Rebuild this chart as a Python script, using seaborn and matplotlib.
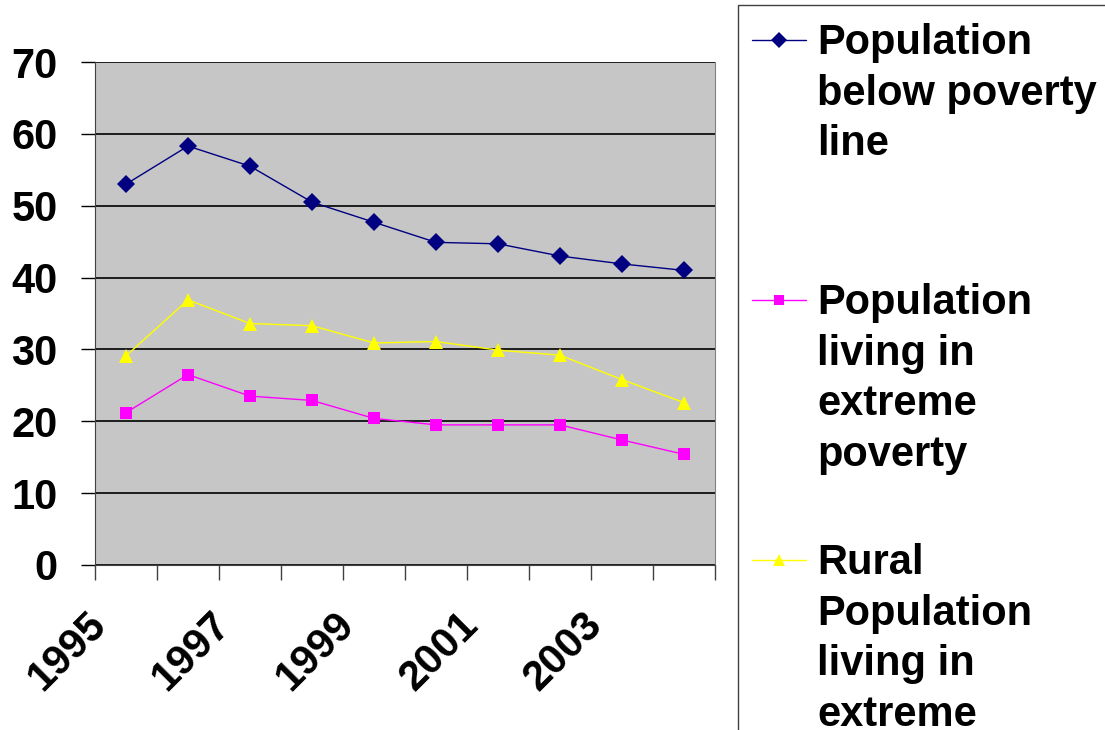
import numpy as np
import pandas as pd
import seaborn as sns
import matplotlib.pyplot as plt
from matplotlib.lines import Line2D
from matplotlib.patches import Rectangle
from matplotlib.transforms import ScaledTranslation

years = [1995, 1996, 1997, 1998, 1999, 2000, 2001, 2002, 2003, 2004]
below_line = [53.0, 58.3, 55.5, 50.5, 47.7, 44.9, 44.7, 43.0, 41.9, 41.0]
extreme = [21.2, 26.5, 23.5, 22.9, 20.4, 19.5, 19.5, 19.5, 17.4, 15.4]
rural_extreme = [29.1, 36.9, 33.6, 33.3, 30.9, 31.1, 29.9, 29.2, 25.8, 22.6]

series_names = ['Population\nbelow poverty\nline',
                'Population\nliving in\nextreme\npoverty',
                'Rural\nPopulation\nliving in\nextreme\npoverty']
colors = ['#000080', '#FF00FF', '#FFFF00']
marks = ['D', 's', '^']
msizes = [9, 8, 10]

df = pd.DataFrame({'year': years * 3,
                   'value': below_line + extreme + rural_extreme,
                   'series': [series_names[0]] * 10 + [series_names[1]] * 10 + [series_names[2]] * 10})

sns.set_style('white')
plt.rcParams['font.family'] = ['Liberation Sans', 'DejaVu Sans']
plt.rcParams['font.weight'] = 'bold'
plt.rcParams['text.color'] = 'black'

fig = plt.figure(figsize=(11.05, 7.3), dpi=100)
ax = fig.add_axes([95/1105, 1-565/730, 620/1105, 503/730])
ax.set_facecolor('#C6C6C6')

for i, name in enumerate(series_names):
    sns.lineplot(data=df[df['series'] == name], x='year', y='value', color=colors[i],
                 marker=marks[i], markersize=msizes[i], markeredgewidth=0,
                 linewidth=1, ax=ax, legend=False, zorder=3)

ax.set_ylim(0, 70)
ax.set_xlim(1994.5, 2004.5)
ax.set_yticks(range(0, 71, 10))
ax.yaxis.grid(True, color='black', linewidth=1.2)
ax.set_axisbelow(True)

# ticks sit between the categories, a label on every other one
bounds = [y - 0.5 for y in years] + [2004.5]
xlabels = [str(y) if (y - 1995) % 2 == 0 else '' for y in years] + ['']
ax.set_xticks(bounds)
ax.set_xticklabels(xlabels, rotation=45, ha='right', va='center', rotation_mode='anchor')
ax.tick_params(axis='x', length=10.5, width=1, color='#404040', pad=28, labelsize=30,
               labelcolor='black', direction='out', bottom=True)
ax.tick_params(axis='y', length=10, width=1, color='black', pad=17, labelsize=30,
               labelcolor='black', direction='out', left=True)
shift = ScaledTranslation(5/100, 0, fig.dpi_scale_trans)
for lab in ax.get_xticklabels():
    lab.set_fontweight('bold')
    lab.set_transform(lab.get_transform() + shift)
for lab in ax.get_yticklabels():
    lab.set_fontweight('bold')
ax.set_xlabel('')
ax.set_ylabel('')

for s in ['left', 'bottom']:
    ax.spines[s].set_color('#404040')
ax.spines['right'].set_color('#808080')
ax.spines['top'].set_visible(False)

# legend drawn by hand (entries sit on equal slots like in the original)
fig.add_artist(Rectangle((738/1105, -0.2), 0.5, 1.2 - 5/730, transform=fig.transFigure,
                         facecolor='white', edgecolor='#404040', linewidth=1))
slot_y = [40, 300, 560]
for i, name in enumerate(series_names):
    yf = 1 - slot_y[i]/730
    fig.add_artist(Line2D([752/1105, 806/1105], [yf, yf], transform=fig.transFigure,
                          color=colors[i], linewidth=1))
    fig.add_artist(Line2D([779/1105], [yf], transform=fig.transFigure, color=colors[i],
                          marker=marks[i], markersize=msizes[i] * 0.9, markeredgewidth=0))
    fig.text(817/1105, 1 - (slot_y[i] - 17)/730, name, fontsize=30, fontweight='bold',
             va='top', ha='left', linespacing=1.34, multialignment='left', color='black')

fig.savefig('out.png', dpi=100)
